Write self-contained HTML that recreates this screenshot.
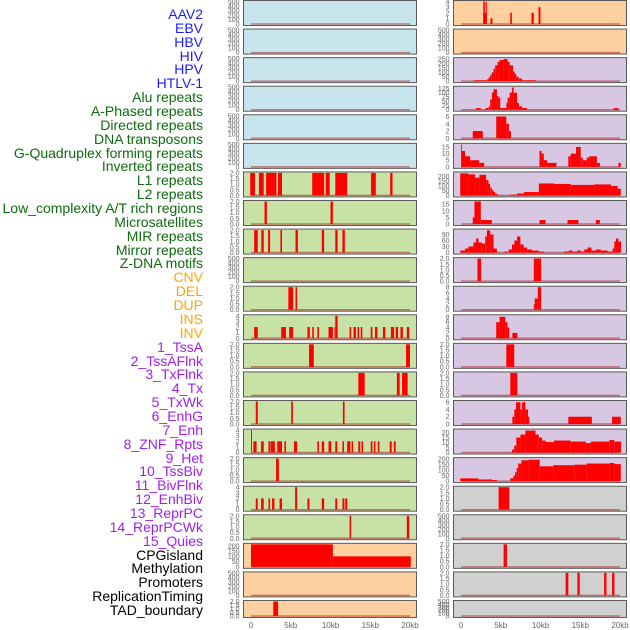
<!DOCTYPE html>
<html><head><meta charset="utf-8">
<style>
html,body{margin:0;padding:0;background:#fff;}
#wrap{position:relative;width:630px;height:630px;overflow:hidden;font-family:"Liberation Sans",sans-serif;}
.lab{position:absolute;right:427px;font-size:14px;line-height:14px;white-space:nowrap;}
</style></head>
<body>
<div id="wrap">
<div id="labels"></div>
<svg id="chart" width="630" height="630" style="position:absolute;left:0;top:0"></svg>
</div>
<script>
// ---- data ----
const labelNames = ["AAV2","EBV","HBV","HIV","HPV","HTLV-1","Alu repeats","A-Phased repeats","Directed repeats","DNA transposons","G-Quadruplex forming repeats","Inverted repeats","L1 repeats","L2 repeats","Low_complexity A/T rich regions","Microsatellites","MIR repeats","Mirror repeats","Z-DNA motifs","CNV","DEL","DUP","INS","INV","1_TssA","2_TssAFlnk","3_TxFlnk","4_Tx","5_TxWk","6_EnhG","7_Enh","8_ZNF_Rpts","9_Het","10_TssBiv","11_BivFlnk","12_EnhBiv","13_ReprPC","14_ReprPCWk","15_Quies","CPGisland","Methylation","Promoters","ReplicationTiming","TAD_boundary"];
const labelColors = ["#1c1cff","#1c1cff","#1c1cff","#1c1cff","#1c1cff","#1c1cff","#0e6b0e","#0e6b0e","#0e6b0e","#0e6b0e","#0e6b0e","#0e6b0e","#0e6b0e","#0e6b0e","#0e6b0e","#0e6b0e","#0e6b0e","#0e6b0e","#0e6b0e","#ffa500","#ffa500","#ffa500","#ffa500","#ffa500","#a020f0","#a020f0","#a020f0","#a020f0","#a020f0","#a020f0","#a020f0","#a020f0","#a020f0","#a020f0","#a020f0","#a020f0","#a020f0","#a020f0","#a020f0","#000","#000","#000","#000","#000"];
const xTicks = [0,5,10,15,20];
const xTickLabels = ["0","5kb","10kb","15kb","20kb"];
const E = [0,100,200,300,400,500];
const T2 = [0,0.5,1,1.5,2];
const T4 = [0,1,2,3,4];
// each panel: [ticks, yMax, segments [startKb,endKb,value]]
const leftTicks = [E,E,E,E,E,E,T2,T2,T2,E,T2,T4,T2,T2,T2,T4,T2,T4,T2,[0,50,100,150,200],E,T2];
const leftMax = [500,500,500,500,500,500,2,2,2,500,2,4,2,2,2,4,2,4,2,215,500,2];
const leftSegs = [
[],[],[],[],[],[],
[[-0.1,0.5,2],[1.0,1.6,2],[1.9,3.2,2],[3.4,3.9,2],[7.7,9.2,2],[9.4,9.9,2],[10.6,12.1,2],[15.1,15.7,2],[17.5,17.8,2]],
[[1.7,2.0,2],[10.0,10.3,2]],
[[0.4,0.85,2],[1.3,1.6,2],[2.15,2.4,2],[3.7,3.9,2],[5.6,5.9,2],[8.9,9.2,2],[10.6,10.9,2],[11.5,11.8,2]],
[],
[[4.7,5.3,2],[5.6,5.8,2]],
[[0.4,0.85,2],[3.8,4.4,2],[4.8,5.3,2],[7.1,7.4,2],[7.7,7.9,2],[8.35,8.55,2],[9.75,10.3,2],[10.5,10.6,2],[10.6,10.9,4],[12.4,12.6,2],[12.9,13.2,2],[13.4,13.6,2],[13.8,14.0,2],[15.06,15.27,2],[15.6,15.9,2],[16.6,16.9,2],[17.6,18.0,2],[18.2,18.5,2],[18.8,19.1,2],[19.6,19.9,2]],
[[7.3,7.9,2],[19.5,20.0,2]],
[[13.5,14.3,2],[18.35,18.7,2],[19.0,19.7,2]],
[[0.6,0.85,2],[5.06,5.27,2],[11.56,11.77,2]],
[[0,0.12,4],[0.3,0.7,2],[1.27,1.6,2],[2.2,2.45,2],[2.5,3.0,2],[3.3,3.9,2],[4.2,4.4,2],[5.4,5.8,2],[8.35,8.55,2],[8.9,9.2,2],[9.75,10.1,2],[10.6,10.85,2],[11.5,11.7,2],[12.1,12.5,2],[12.65,12.85,2],[13.5,13.75,2],[13.9,14.1,2],[15.06,15.27,2],[15.45,15.65,2],[15.95,16.15,2],[17.45,17.7,2],[17.97,18.2,2]],
[[3.15,3.5,2]],
[[0.6,0.85,2],[1.27,1.6,2],[2.2,2.4,2],[2.65,2.95,2],[3.6,3.9,2],[5.55,5.8,4],[7.1,7.35,2],[8.9,9.2,2],[10.6,10.85,2],[11.5,11.75,2],[11.85,12.1,2]],
[[12.4,12.6,2],[19.6,19.9,2]],
[[0,10.3,215],[10.3,20.1,100]],
[],
[[2.8,3.4,2]]
];
const rightTicks = [T4,E,[0,50,100,150,200,250],[0,25,50,75,100,125],[0,2,4,6],[0,5,10,15],[0,50,100,150,200],[0,5,10,15],[0,30,60,90],T2,[0,2,4,6,8],[0,2,4,6,8],T2,T2,[0,2,4,6],[0,5,10,15,20],[0,50,100,150,200],T2,E,T2,T2,E];
const rightMax = [4,500,255,132,6.2,17,235,17,112,2,8,8.4,2,2,6.2,22.5,205,2,500,2,2,500];
const rightSegs = [
[[2.8,3.25,2],[2.8,3.0,4],[3.1,3.25,4],[3.7,3.95,1],[6.2,6.4,2],[8.86,9.15,2],[9.75,10.0,3]],
[],
[[1.65,2.32,10],[2.32,3.25,10],[3.25,3.46,20],[3.46,3.67,40],[3.67,3.88,70],[3.88,4.09,100],[4.09,4.3,140],[4.3,4.6,180],[4.6,4.85,220],[4.85,5.36,240],[5.36,5.86,250],[5.86,6.12,220],[6.12,6.54,180],[6.54,6.75,110],[6.75,6.96,80],[6.96,7.26,50],[7.26,7.68,30],[7.68,9.37,10]],
[[1.9,2.5,10],[3.1,3.5,10],[3.5,3.67,20],[3.67,3.88,60],[3.88,4.09,100],[4.09,4.52,120],[4.52,4.73,80],[4.73,4.94,70],[4.94,5.7,10],[5.7,5.86,40],[5.86,6.12,70],[6.12,6.41,100],[6.41,6.62,130],[6.62,7.05,100],[7.05,7.3,40],[7.3,7.68,20],[7.68,8.31,10],[19.2,19.8,10]],
[[1.48,2.74,2],[4.43,5.7,6],[5.7,6.03,4],[6.03,6.29,2]],
[[0,0.1,17],[0.1,0.51,12],[0.51,1.14,8],[1.14,2.28,5],[2.28,2.91,3],[9.87,10.13,12],[10.13,10.42,10],[10.42,10.84,5],[10.84,12.0,3],[13.5,13.8,8],[13.8,14.47,10],[14.47,15.06,15],[15.06,15.32,7],[15.32,15.82,5],[15.82,16.12,7],[16.12,17.09,8],[17.09,17.47,3],[19.8,20.1,3]],
[[-0.1,0.93,230],[0.93,1.77,220],[1.77,2.32,185],[2.32,3.16,215],[3.16,3.46,160],[3.46,3.67,120],[3.67,3.88,80],[3.88,4.09,55],[4.09,4.3,35],[4.3,4.52,20],[4.52,4.73,10],[6.12,7.05,8],[7.05,7.89,20],[7.89,9.79,35],[9.79,11.69,125],[11.69,13.8,120],[13.8,16.75,110],[16.75,18.86,115],[18.86,19.7,100],[19.7,20.1,70]],
[[1.48,1.69,5],[1.69,2.49,17],[2.49,3.88,3],[9.87,10.63,3],[13.4,14.77,3],[16.96,17.47,3]],
[[-0.1,0.51,10],[0.51,0.93,20],[0.93,1.56,30],[1.56,1.9,50],[1.9,2.2,70],[2.2,2.62,50],[2.62,3.04,45],[3.04,3.25,80],[3.25,3.67,110],[3.67,4.09,90],[4.09,4.52,20],[5.44,5.86,5],[5.99,6.41,15],[6.41,6.71,40],[6.71,7.05,60],[7.05,7.47,80],[7.47,7.89,40],[7.89,8.31,25],[8.31,8.94,15],[8.94,9.79,10],[9.79,10.42,5],[12.95,13.59,5],[13.59,14.01,10],[14.01,14.64,5],[14.64,15.06,10],[15.06,15.49,5],[15.49,15.91,15],[15.91,16.41,25],[16.41,16.96,10],[16.96,17.59,15],[17.59,18.44,10],[18.44,19.07,5],[19.07,19.28,20],[19.28,19.49,55],[19.49,19.8,70],[19.8,20.13,55]],
[[2.07,2.53,2],[9.16,10.08,2]],
[[9.16,9.28,2],[9.28,9.66,4],[9.66,10.08,8]],
[[4.43,4.85,6],[4.85,5.57,8],[5.57,5.86,6],[5.86,6.08,4],[6.46,7.09,2]],
[[5.7,6.7,2]],
[[6.2,7.09,2]],
[[6.46,6.71,2],[6.71,6.92,4],[6.92,7.47,6],[7.47,7.68,4],[7.68,8.1,6],[8.1,8.44,4],[8.44,8.6,2],[13.5,16.46,2],[19.0,20.1,2]],
[[6.41,6.7,3],[6.7,6.96,7],[6.96,7.47,15],[7.47,8.1,18],[8.1,9.37,22],[9.37,9.79,18],[9.79,10.21,15],[10.21,10.63,12],[10.63,11.69,10.5],[11.69,13.8,12],[13.8,15.7,11],[15.7,16.33,9.5],[16.33,18.65,11],[18.65,19.28,12.5],[19.28,20.13,11]],
[[-0.1,2.2,25],[2.2,3.9,15],[3.9,4.5,10],[6.2,6.6,25],[6.6,6.8,50],[6.8,7.0,80],[7.0,7.2,120],[7.2,7.6,160],[7.6,8.5,190],[8.5,9.9,195],[9.9,11.6,135],[11.6,14.3,145],[14.3,15.8,150],[15.8,18.7,160],[18.7,19.3,165],[19.3,20.1,155]],
[[4.73,6.08,2]],
[],
[[5.36,5.78,2]],
[[13.16,13.5,2],[14.64,14.94,2],[18.0,18.3,2],[19.0,19.3,2]],
[]
];
// ---- drawing ----
const NS="http://www.w3.org/2000/svg";
const svg=document.getElementById('chart');
const labelsDiv=document.getElementById('labels');
labelNames.forEach((n,i)=>{
  const d=document.createElement('div');
  d.className='lab';
  d.textContent=n;
  d.style.color=labelColors[i];
  d.style.top=(15+i*13.86-8)+'px';
  
  
  labelsDiv.appendChild(d);
});
function mk(tag,attrs){const e=document.createElementNS(NS,tag);for(const k in attrs)e.setAttribute(k,attrs[k]);return e;}
const leftFill=i=> i<6?'#c8e4ec':(i<19?'#c8e1a5':'#fed09f');
const rightFill=i=> i<2?'#fed09f':(i<17?'#d8c7e2':'#d0d0d0');
function rowTop(i){return 0.5+i*28.57;}
function rowH(i){return i===21?17:25;}
function drawPanel(col,i,ticks,yMax,segs,fill){
  const px0=col===0?243.5:453.5, pw=173;
  const x0=col===0?251:461;
  const xs=kb=>x0+kb*7.95;
  const top=rowTop(i), h=rowH(i), bottom=top+h;
  const yBase=bottom-1.5, yTop=top+1;
  const ys=v=>yBase-(v/yMax)*(yBase-yTop);
  const g=mk('g',{});
  
  
  const r=mk('rect',{x:px0,y:top,width:pw,height:h,fill:fill,stroke:'#5a5a5a','stroke-width':1});
  
  
  g.appendChild(r);
  const base=mk('line',{x1:xs(0),x2:xs(20),y1:yBase,y2:yBase,stroke:'rgba(160,0,0,0.45)','stroke-width':1.5});
  
  
  g.appendChild(base);
  segs.forEach(s=>{
    const y=ys(s[2]);
    const b=mk('rect',{x:xs(s[0]),y:y,width:Math.max(0.8,xs(s[1])-xs(s[0])),height:yBase-y,fill:'#ff0000'});
    
    
    g.appendChild(b);
  });
  ticks.forEach(t=>{
    const tx=mk('text',{x:px0-4,y:ys(t)+2.5,'font-size':7,fill:'#666','text-anchor':'end','font-family':'Liberation Sans, sans-serif'});
    tx.textContent=String(yMax<=2.5&&ticks.length===5&&ticks[4]===2?t.toFixed(1):t);
    
    
    g.appendChild(tx);
  });
  svg.appendChild(g);
}
for(let i=0;i<22;i++){
  drawPanel(0,i,leftTicks[i],leftMax[i],leftSegs[i],leftFill(i));
  drawPanel(1,i,rightTicks[i],rightMax[i],rightSegs[i],rightFill(i));
}
[251,461].forEach((x0,c)=>{
  xTicks.forEach((t,j)=>{
    const tx=mk('text',{x:x0+t*7.95,y:628,'font-size':8,fill:'#666','text-anchor':'middle','font-family':'Liberation Sans, sans-serif'});
    tx.textContent=xTickLabels[j];
    
    
    svg.appendChild(tx);
  });
});
</script>
</body></html>
